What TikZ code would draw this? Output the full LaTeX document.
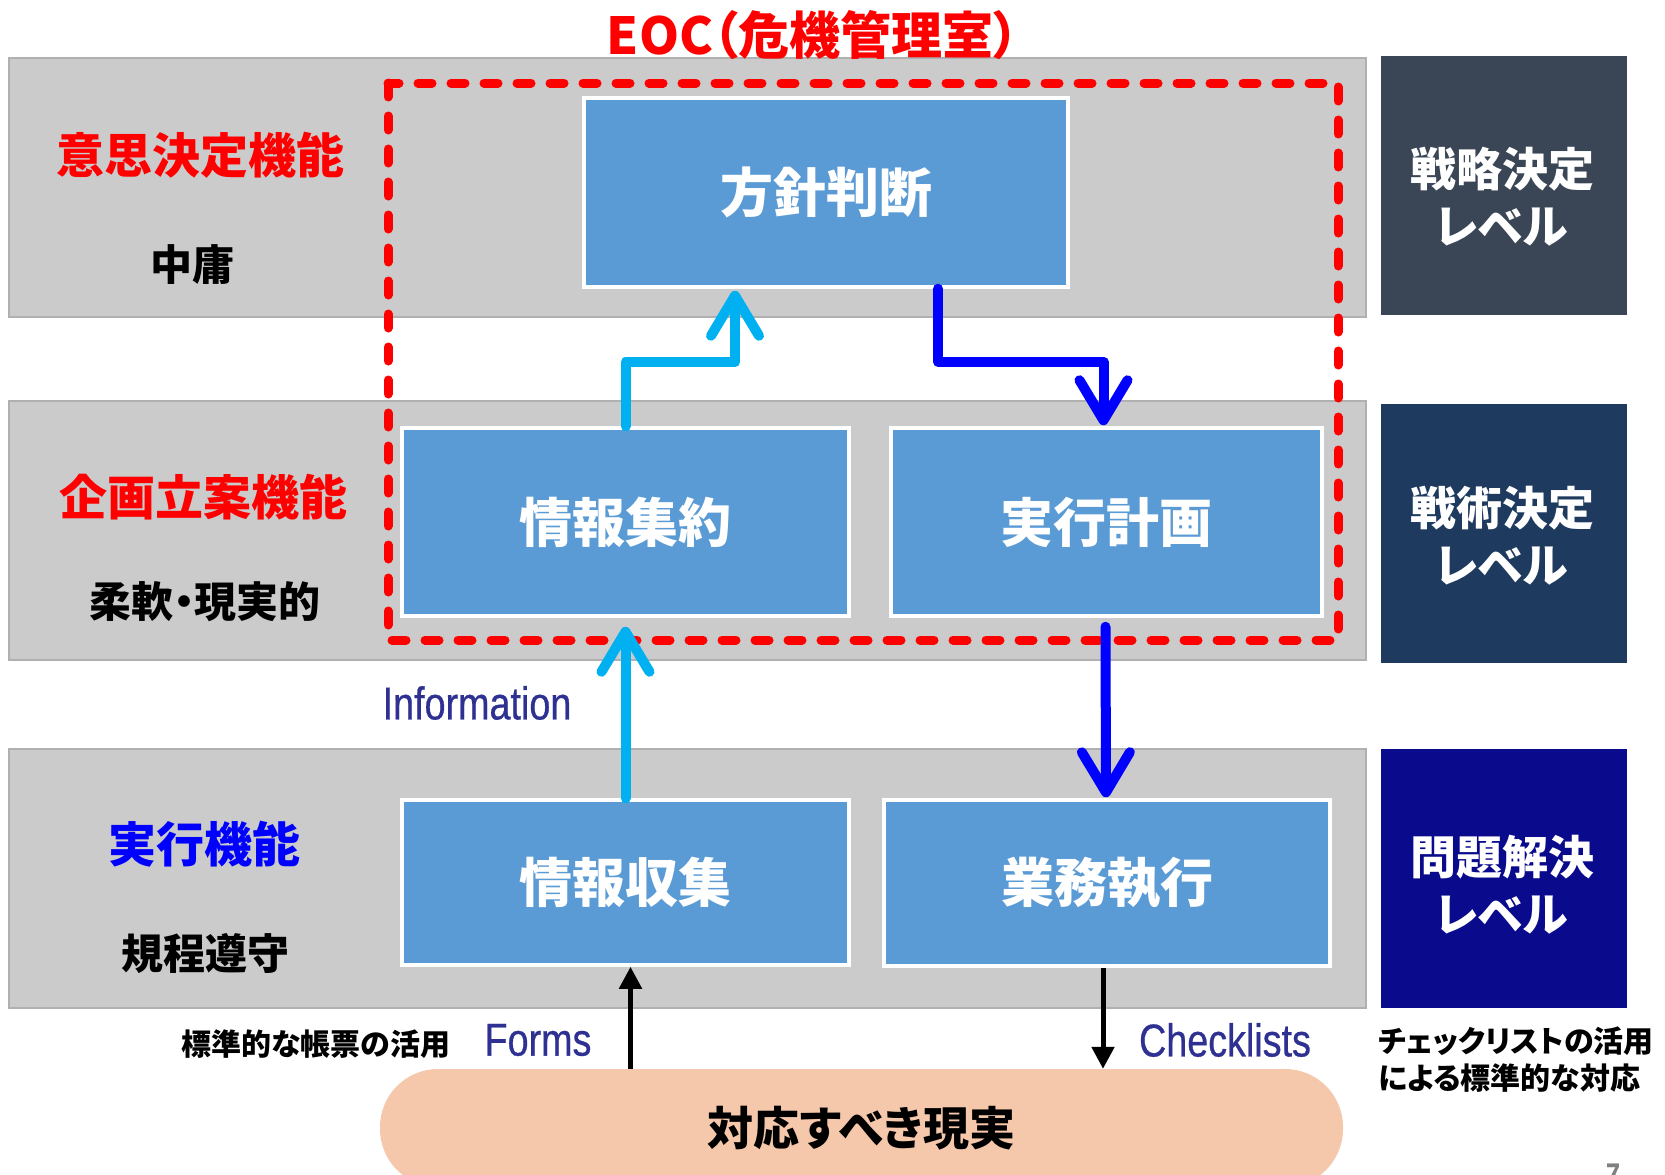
\documentclass[tikz,border=0pt]{standalone}
\usepackage{fontspec}
\newfontfamily\jp{Noto Sans CJK JP}[BoldFont={Noto Sans CJK JP Black},RawFeature=+palt]
\newfontfamily\lat{Liberation Sans}[FakeStretch=0.82,FakeBold=0.6]
\usetikzlibrary{arrows.meta}
\definecolor{bandgray}{HTML}{CBCBCB}
\definecolor{bandedge}{HTML}{B0B0B0}
\definecolor{boxblue}{HTML}{5B9BD5}
\definecolor{lvA}{HTML}{3A4656}
\definecolor{lvB}{HTML}{1F3A5F}
\definecolor{lvC}{HTML}{0A0A8C}
\definecolor{arrcyan}{HTML}{00B0F0}
\definecolor{arrblue}{HTML}{0000FF}
\definecolor{indigo}{HTML}{2E3192}
\definecolor{peach}{HTML}{F5C8AB}
\definecolor{eocred}{HTML}{FF0000}
\begin{document}
\begin{tikzpicture}[x=1pt,y=-1pt,
  band/.style={fill=bandgray,draw=bandedge,line width=1.5pt},
  bluebox/.style={rectangle,fill=boxblue,draw=white,line width=3.5pt,text=white,inner sep=0pt,
    font=\jp\bfseries\fontsize{53}{60}\selectfont},
  lvlbox/.style={rectangle,draw=none,inner sep=0pt,minimum width=246pt,minimum height=259pt},
  lvltext/.style={text=white,align=center,font=\jp\bfseries\fontsize{46}{57}\selectfont},
  funclabel/.style={font=\jp\bfseries\fontsize{48}{56}\selectfont},
  sublabel/.style={text=black,font=\jp\bfseries\fontsize{42}{50}\selectfont},
  smallnote/.style={text=black,font=\jp\bfseries\fontsize{30}{37}\selectfont},
  engl/.style={text=indigo,font=\lat\fontsize{46}{50}\selectfont,inner sep=0pt},
  eocline/.style={draw=eocred,line width=9pt,dash pattern=on 14pt off 19pt,line cap=round},
  cyanarr/.style={draw=arrcyan,line width=10pt,line cap=round,line join=round,
    -{Straight Barb[length=40pt,width=48pt,round]}},
  bluearr/.style={draw=arrblue,line width=10pt,line cap=round,line join=round,
    -{Straight Barb[length=40pt,width=48pt,round]}},
  blackarr/.style={draw=black,line width=5pt,-{Triangle[length=22pt,width=22pt]}}
]
\useasboundingbox (0,0) rectangle (1665,1175);

% bands
\draw[band] (9,58) rectangle (1366,317);
\draw[band] (9,401) rectangle (1366,660);
\draw[band] (9,749) rectangle (1366,1008);

% level boxes
\node[lvlbox,fill=lvA] (lvA) at (1504,185.5) {};
\node[lvlbox,fill=lvB] (lvB) at (1504,533) {};
\node[lvlbox,fill=lvC] (lvC) at (1504,878.5) {};
\node[lvltext] (tA) at (1502,197) {戦略決定\\レベル};
\node[lvltext] (tB) at (1502,536) {戦術決定\\レベル};
\node[lvltext] (tC) at (1502,885) {問題解決\\レベル};

% title
\node[text=eocred,font=\jp\bfseries\fontsize{51}{58}\selectfont] (title) at (813,35) {EOC（危機管理室）};

% left labels
\node[funclabel,text=eocred] (f1) at (200,155) {意思決定機能};
\node[sublabel] (s1) at (192,265) {中庸};
\node[funclabel,text=eocred] (f2) at (203,497) {企画立案機能};
\node[sublabel] (s2) at (205,602) {柔軟・現実的};
\node[funclabel,text=arrblue] (f3) at (204,844) {実行機能};
\node[sublabel] (s3) at (205,953) {規程遵守};

% red dashed EOC boundary
\draw[eocline] (388,83) rectangle (1338,640);

% blue boxes
\node[bluebox,minimum width=484pt,minimum height=189pt] (b1) at (826,192.5) {方針判断};
\node[bluebox,minimum width=447pt,minimum height=188pt] (b2) at (625.5,522) {情報集約};
\node[bluebox,minimum width=431pt,minimum height=188pt] (b3) at (1106.5,522) {実行計画};
\node[bluebox,minimum width=447pt,minimum height=165pt] (b4) at (625.5,882.5) {情報収集};
\node[bluebox,minimum width=446pt,minimum height=166pt] (b5) at (1107,883) {業務執行};

% reality pill
\node[rectangle,fill=peach,rounded corners=58pt,minimum width=963pt,minimum height=118pt,inner sep=0pt,
  text=black,font=\jp\bfseries\fontsize{46}{52}\selectfont] (pill) at (861.5,1128) {対応すべき現実};

% arrows
\draw[cyanarr] (b2.north) -- ++(0,-64) -| ([xshift=-91pt,yshift=-2pt]b1.south);
\draw[bluearr] ([xshift=112pt]b1.south) -- ++(0,73) -| ([xshift=-3pt,yshift=1pt]b3.north);
\draw[cyanarr] (b4.north) -- ([yshift=-9pt]b2.south);
\draw[bluearr] ([xshift=-1pt,yshift=-9pt]b3.south) -- ([xshift=-1pt,yshift=1pt]b5.north);
\draw[blackarr] ([xshift=5pt]b4.south |- pill.north) -- ([xshift=5pt]b4.south);
\draw[blackarr] ([xshift=-4pt]b5.south) -- ([xshift=-4pt]b5.south |- pill.north);

% labels
\node[engl] (info) at (477,703) {Information};
\node[engl] (forms) at (538,1040) {Forms};
\node[engl] (check) at (1225,1040) {Checklists};
\node[smallnote] (n1) at (316,1044) {標準的な帳票の活用};
\node[smallnote,anchor=west,align=left,inner sep=0pt] (n2) at (1378,1060) {チェックリストの活用\\による標準的な対応};
\node[text=gray,font=\lat\bfseries\fontsize{30}{34}\selectfont] (pg) at (1613,1174) {7};
\end{tikzpicture}
\end{document}
